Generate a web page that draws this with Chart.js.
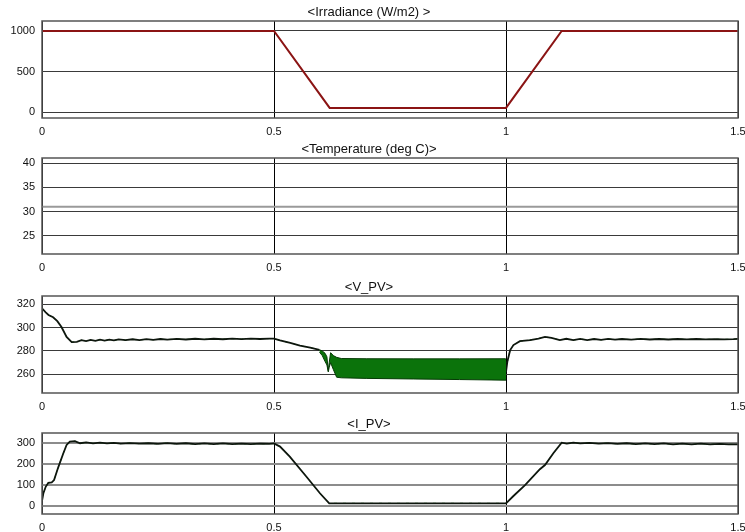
<!DOCTYPE html>
<html>
<head>
<meta charset="utf-8">
<script src="https://cdn.jsdelivr.net/npm/chart.js@4.4.0/dist/chart.umd.min.js"></script>
<style>
  body { margin: 0; background: #fff; width: 745px; height: 532px; overflow: hidden; position: relative; }
  canvas { position: absolute; left: 0; }
</style>
</head>
<body>
<canvas id="irr" width="745" height="135" style="top:5px"></canvas>
<canvas id="temp" width="745" height="134" style="top:142px"></canvas>
<canvas id="vpv" width="745" height="135" style="top:280px"></canvas>
<canvas id="ipv" width="745" height="119" style="top:417px"></canvas>
<script>
// x axis (time, s)
const xTicks = [0, 0.5, 1, 1.5]
const xTickLabels = ['0', '0.5', '1', '1.5']

// irradiance
const irrT = [0, 0.5, 0.62, 1.0, 1.12, 1.5]
const irrV = [1000, 1000, 50, 50, 1000, 1000]
const irrTicks = [0, 500, 1000]

// temperature
const tempT = [0, 1.5]
const tempV = [31, 31]
const tempTicks = [25, 30, 35, 40]

// V_PV, before the band
const vT1 = [0, 0.008, 0.014, 0.024, 0.033, 0.042, 0.053, 0.064, 0.075, 0.085,
  0.095, 0.105, 0.115, 0.125, 0.135, 0.145, 0.155, 0.165, 0.18, 0.195,
  0.21, 0.225, 0.24, 0.255, 0.27, 0.29, 0.31, 0.33, 0.35, 0.37,
  0.39, 0.41, 0.43, 0.45, 0.47, 0.49, 0.5, 0.513, 0.535, 0.556,
  0.578, 0.598]
const vV1 = [316.5, 313, 310.8, 308.8, 305.5, 300.5, 292, 287.6, 287.8, 289.2,
  288.4, 289.4, 288.6, 289.6, 288.8, 289.7, 289, 289.8, 289.2, 290,
  289.3, 290.1, 289.5, 290.2, 289.7, 290.3, 289.8, 290.4, 289.9, 290.4,
  290, 290.5, 290.1, 290.5, 290.2, 290.6, 290.6, 289, 286.8, 284.5,
  282.8, 281]
// V_PV oscillation band (upper / lower envelope)
const bandT = [0.598, 0.604, 0.610, 0.614, 0.617, 0.619, 0.622, 0.628, 0.635, 0.645, 0.7, 0.8, 0.9, 0.998, 1.0]
const bandTop = [281, 280, 278, 275, 263, 270, 278.5, 276, 274.5, 273.5, 273.3, 273.2, 273.2, 273.3, 273]
const bandBot = [279, 276, 271, 268, 262, 266, 270, 264, 257.5, 257, 256.5, 256, 255.5, 255, 255]
// V_PV, after the band
const vT2 = [1.0, 1.003, 1.009, 1.016, 1.03, 1.052, 1.07, 1.084, 1.098, 1.116,
  1.13, 1.145, 1.16, 1.175, 1.19, 1.205, 1.22, 1.235, 1.25, 1.27,
  1.29, 1.31, 1.33, 1.35, 1.37, 1.39, 1.41, 1.43, 1.45, 1.47,
  1.49, 1.5]
const vV2 = [262, 271, 280.8, 285, 288.4, 289.3, 290.6, 292, 291.2, 289.3,
  290.4, 289.2, 290.3, 289.3, 290.2, 289.5, 290.3, 289.6, 290.2, 289.7,
  290.3, 289.8, 290.2, 289.8, 290.2, 289.9, 290.2, 289.9, 290.1, 289.9,
  290.1, 290.3]
const vTicks = [260, 280, 300, 320]

// I_PV
const iT = [0, 0.003, 0.008, 0.0136, 0.021, 0.026, 0.035, 0.046, 0.053, 0.06,
  0.071, 0.082, 0.095, 0.11, 0.125, 0.14, 0.155, 0.17, 0.19, 0.21,
  0.23, 0.25, 0.27, 0.29, 0.31, 0.33, 0.35, 0.37, 0.39, 0.41,
  0.43, 0.45, 0.47, 0.49, 0.5, 0.513, 0.534, 0.57, 0.599, 0.619,
  0.7, 0.8, 0.9, 1.0, 1.016, 1.041, 1.073, 1.084, 1.102, 1.12,
  1.131, 1.145, 1.16, 1.18, 1.2, 1.22, 1.24, 1.26, 1.28, 1.3,
  1.32, 1.34, 1.36, 1.38, 1.4, 1.42, 1.44, 1.46, 1.48, 1.5]
const iV = [25, 61, 92, 111, 113, 124, 185, 252, 292, 308,
  310, 300, 304, 299, 303, 299, 302, 298, 301, 298,
  300, 297, 301, 297, 300, 296, 299, 296, 299, 296,
  298, 296, 298, 297, 299, 284, 236, 140, 61, 13,
  13, 13, 13, 13, 48, 100, 176, 196, 252, 303,
  298, 303, 299, 302, 298, 301, 297, 300, 296, 299,
  296, 299, 295, 298, 295, 298, 295, 297, 295, 295]
const iTicks = [0, 100, 200, 300]

const FONT = 'Liberation Sans, Arial, sans-serif'

const pts = (t, v) => t.map((x, i) => ({ x: x, y: v[i] }))

const frame = {
  id: 'frame',
  afterDraw(chart) {
    const { ctx, chartArea: a } = chart
    ctx.save()
    ctx.strokeStyle = '#555'
    ctx.lineWidth = 1.5
    ctx.strokeRect(a.left, a.top, a.right - a.left, a.bottom - a.top)
    ctx.restore()
  }
}

function panel(id, title, yMin, yMax, yTicks, datasets, yGrid) {
  return new Chart(document.getElementById(id), {
    type: 'line',
    data: { datasets: datasets },
    options: {
      responsive: false,
      animation: false,
      layout: { padding: { left: 0, right: 7, top: 0, bottom: 0 } },
      elements: { point: { radius: 0 }, line: { tension: 0 } },
      plugins: {
        legend: { display: false },
        tooltip: { enabled: false },
        title: {
          display: true, text: title, color: '#111',
          font: { family: FONT, size: 13, weight: 'normal', lineHeight: 1 },
          padding: { top: 1, bottom: 2 }
        }
      },
      scales: {
        x: {
          type: 'linear', min: 0, max: 1.5,
          afterBuildTicks: s => { s.ticks = xTicks.map(v => ({ value: v })) },
          afterFit: s => { s.height = 22; s.paddingLeft = 0; s.paddingRight = 0 },
          ticks: {
            padding: 7, maxRotation: 0, autoSkip: false, color: '#111',
            font: { family: FONT, size: 11 },
            callback: v => xTickLabels[xTicks.indexOf(v)]
          },
          grid: { color: '#000', lineWidth: 1, drawTicks: false },
          border: { display: false }
        },
        y: {
          type: 'linear', min: yMin, max: yMax,
          afterBuildTicks: s => { s.ticks = yTicks.map(v => ({ value: v })) },
          afterFit: s => { s.width = 42 },
          ticks: { padding: 7, color: '#111', font: { family: FONT, size: 11 }, callback: v => String(v) },
          grid: { color: yGrid.color, lineWidth: yGrid.width, drawTicks: false },
          border: { display: false }
        }
      }
    },
    plugins: [frame]
  })
}

const darkGrid = { color: '#3a3a3a', width: 1 }

panel('irr', '<Irradiance (W/m2) >', -74, 1123, irrTicks, [
  { data: pts(irrT, irrV), borderColor: '#8b1414', borderWidth: 2 }
], darkGrid)

panel('temp', '<Temperature (deg C)>', 21.2, 41.1, tempTicks, [
  { data: pts(tempT, tempV), borderColor: '#9a9a9a', borderWidth: 2 }
], darkGrid)

panel('vpv', '<V_PV>', 244, 327, vTicks, [
  { data: pts(bandT, bandTop), borderColor: '#053a05', borderWidth: 1 },
  { data: pts(bandT, bandBot), borderColor: '#053a05', borderWidth: 1, fill: '-1', backgroundColor: '#0b730b' },
  { data: pts(vT1, vV1), borderColor: '#0d160d', borderWidth: 1.8 },
  { data: pts(vT2, vV2), borderColor: '#0d160d', borderWidth: 1.8 },
  { data: pts(vT1, vV1), borderColor: '#2e8b2e', borderWidth: 1, borderDash: [3, 6] },
  { data: pts(vT2, vV2), borderColor: '#2e8b2e', borderWidth: 1, borderDash: [3, 6] }
], darkGrid)

panel('ipv', '<I_PV>', -38, 349, iTicks, [
  { data: pts(iT, iV), borderColor: '#0d160d', borderWidth: 1.8 },
  { data: pts(iT, iV), borderColor: '#2e8b2e', borderWidth: 1, borderDash: [3, 6] }
], { color: '#8c8c8c', width: 2 })
</script>
</body>
</html>
